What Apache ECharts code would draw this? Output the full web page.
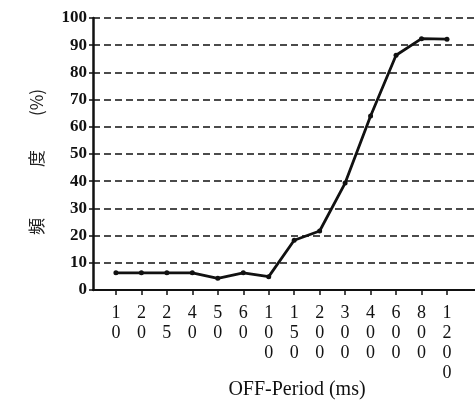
<!DOCTYPE html>
<html>
<head>
<meta charset="utf-8">
<script src="https://cdn.jsdelivr.net/npm/echarts@6/dist/echarts.min.js"></script>
<style>
html,body{margin:0;padding:0;background:#fff;}
#chart{width:475px;height:407px;}
</style>
</head>
<body>
<div id="chart"></div>
<script>
const categories = ['10','20','25','40','50','60','100','150','200','300','400','600','800','1200'];
const frequency = [6.3, 6.3, 6.3, 6.3, 4.3, 6.3, 4.9, 18.3, 21.7, 39.3, 64, 86.3, 92.4, 92.2];
const yTicks = [0,10,20,30,40,50,60,70,80,90,100];

const idx = categories.map((c, i) => i);
const seriesData = frequency.map((v, i) => [i, v]);
const serif = '"Liberation Serif", "DejaVu Serif", serif';

const chart = echarts.init(document.getElementById('chart'), null, {renderer: 'canvas'});
chart.setOption({
  animation: false,
  backgroundColor: '#fff',
  grid: {left: 93, right: 0, top: 18, bottom: 117, containLabel: false, outerBoundsMode: 'none'},
  xAxis: {
    type: 'value',
    min: -0.9,
    max: 14.1,
    name: 'OFF-Period (ms)',
    nameLocation: 'middle',
    nameGap: 90,
    nameMoveOverlap: false,
    nameTextStyle: {fontFamily: serif, fontSize: 20, color: '#111', padding: [0, 0, 0, 26]},
    axisLine: {show: true, onZero: false, lineStyle: {color: '#111', width: 2}},
    axisTick: {show: true, customValues: idx, length: 5, inside: false, lineStyle: {color: '#111', width: 1.5}},
    axisLabel: {
      show: true,
      customValues: idx,
      margin: 13,
      fontFamily: serif,
      fontSize: 18,
      lineHeight: 20,
      color: '#111',
      verticalAlign: 'top',
      formatter: v => categories[Math.round(v)].split('').join('\n')
    },
    splitLine: {show: false}
  },
  yAxis: {
    type: 'value',
    min: 0,
    max: 100,
    interval: 10,
    name: '頻　　　度　　(%)',
    nameLocation: 'middle',
    nameRotate: 90,
    nameGap: 48,
    nameMoveOverlap: false,
    nameTextStyle: {fontFamily: '"Noto Sans CJK JP", sans-serif', fontSize: 17, color: '#222', padding: [0, 16, 0, 0]},
    axisLine: {show: true, onZero: false, lineStyle: {color: '#111', width: 2.5}},
    axisTick: {show: true, length: 4, inside: false, lineStyle: {color: '#111', width: 1.5}},
    axisLabel: {
      margin: 6,
      fontFamily: serif,
      fontSize: 17,
      fontWeight: 'bold',
      color: '#111',
      formatter: v => yTicks.includes(v) ? String(v) : ''
    },
    splitLine: {show: true, lineStyle: {color: '#111', width: 1.6, type: [7, 4]}}
  },
  series: [{
    type: 'line',
    data: seriesData,
    symbol: 'circle',
    symbolSize: 5,
    itemStyle: {color: '#111'},
    lineStyle: {color: '#111', width: 2.8},
    z: 5
  }]
});
</script>
</body>
</html>
